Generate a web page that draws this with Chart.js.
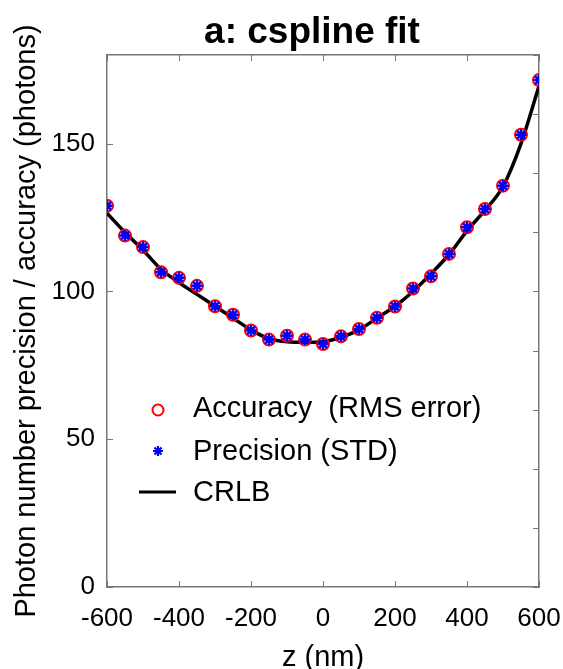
<!DOCTYPE html>
<html><head><meta charset="utf-8">
<script src="https://cdn.jsdelivr.net/npm/chart.js@4.4.1/dist/chart.umd.min.js"></script>
<style>html,body{margin:0;padding:0;background:#fff;overflow:hidden}#wrap{width:563px;height:669px;position:relative}canvas{display:block}</style>
</head><body><div id="wrap"><canvas id="c" width="563" height="669"></canvas></div>
<script>
const titleText = 'a: cspline fit';
const xLabel = 'z (nm)';
const yLabel = 'Photon number precision / accuracy (photons)';
const legendLabels = ['Accuracy  (RMS error)', 'Precision (STD)', 'CRLB'];

const zPos = [-600,-550,-500,-450,-400,-350,-300,-250,-200,-150,-100,-50,0,50,100,150,200,250,300,350,400,450,500,550,600];
const accuracy = [129.0,118.9,115.0,106.5,104.6,101.9,95.0,92.1,86.8,83.7,85.0,83.7,82.2,84.8,87.3,91.1,94.9,101.0,105.1,112.7,121.7,127.9,135.8,153.0,171.5];
const precision = [129.0,118.9,115.0,106.5,104.6,101.9,95.0,92.1,86.8,83.7,85.0,83.7,82.2,84.8,87.3,91.1,94.9,101.0,105.1,112.7,121.7,127.9,135.8,153.0,171.5];
const crlbZ = [-600,-550,-500,-450,-400,-350,-300,-250,-200,-150,-100,-50,0,50,100,150,200,250,300,350,400,450,500,550,600];
const crlb = [126.5,120.0,114.0,107.5,103.0,99.0,95.0,91.0,87.0,84.0,83.0,82.8,83.0,84.5,87.0,91.0,95.0,100.0,106.0,112.5,120.5,127.5,135.5,150.0,169.5];

const xTicks = [-600,-400,-200,0,200,400,600];
const yTicks = [0,50,100,150];
const yTicksRight = [0,20,40,60,80,100,120,140,160,180];

const FONT = '"Liberation Sans", Arial, Helvetica, sans-serif';
const AXIS_COLOR = '#777777';

const pts = (xs, ys) => xs.map((x, i) => ({x: x, y: ys[i]}));
const setTicks = arr => axis => { axis.ticks = arr.map(v => ({value: v})); };
const fixH = h => s => { s.height = h; s.paddingLeft = 0; s.paddingRight = 0; };
const fixW = w => s => { s.width = w; s.paddingTop = 0; s.paddingBottom = 0; };

const inwardTicks = {
  id: 'inwardTicks',
  afterDatasetsDraw(chart) {
    const ctx = chart.ctx, a = chart.chartArea, L = 6;
    ctx.save();
    ctx.strokeStyle = AXIS_COLOR;
    ctx.lineWidth = 1;
    ctx.beginPath();
    ['x','x2'].forEach(id => {
      const s = chart.scales[id];
      s.ticks.forEach(t => {
        const px = Math.round(s.getPixelForValue(t.value)) + 0.5;
        if (id === 'x') { ctx.moveTo(px, a.bottom); ctx.lineTo(px, a.bottom - L); }
        else { ctx.moveTo(px, a.top); ctx.lineTo(px, a.top + L); }
      });
    });
    ['y','y2'].forEach(id => {
      const s = chart.scales[id];
      s.ticks.forEach(t => {
        const py = Math.round(s.getPixelForValue(t.value)) + 0.5;
        if (id === 'y') { ctx.moveTo(a.left, py); ctx.lineTo(a.left + L, py); }
        else { ctx.moveTo(a.right, py); ctx.lineTo(a.right - L, py); }
      });
    });
    ctx.stroke();
    ctx.restore();
  }
};

const titlePlugin = {
  id: 'plotTitle',
  afterDraw(chart) {
    const ctx = chart.ctx;
    ctx.save();
    ctx.font = 'bold 37px ' + FONT;
    ctx.fillStyle = '#000';
    ctx.textAlign = 'center';
    ctx.textBaseline = 'alphabetic';
    ctx.fillText(titleText, 312, 43);
    ctx.restore();
  }
};

function drawStar(ctx, x, y, r, color, lw) {
  ctx.save();
  ctx.strokeStyle = color; ctx.lineWidth = lw;
  ctx.beginPath();
  for (let k = 0; k < 4; k++) {
    const ang = k * Math.PI / 4;
    ctx.moveTo(x + r * Math.cos(ang), y + r * Math.sin(ang));
    ctx.lineTo(x - r * Math.cos(ang), y - r * Math.sin(ang));
  }
  ctx.stroke();
  ctx.restore();
}

const legendPlugin = {
  id: 'innerLegend',
  afterDraw(chart) {
    const ctx = chart.ctx;
    const a = chart.chartArea;
    const ds = chart.data.datasets;
    const mx = a.left + 51, tx = a.left + 86;
    const rows = [408, 451, 492];
    ctx.save();
    ctx.font = '29px ' + FONT;
    ctx.fillStyle = '#000';
    ctx.textAlign = 'left';
    ctx.textBaseline = 'middle';
    ctx.beginPath();
    ctx.strokeStyle = ds[0].borderColor; ctx.lineWidth = 2;
    ctx.arc(mx, rows[0] + 2, 5.5, 0, Math.PI * 2);
    ctx.stroke();
    drawStar(ctx, mx, rows[1], 5, ds[1].borderColor, 2.2);
    ctx.beginPath();
    ctx.strokeStyle = ds[2].borderColor; ctx.lineWidth = 3;
    ctx.moveTo(mx - 19, rows[2]); ctx.lineTo(mx + 18, rows[2]);
    ctx.stroke();
    ds.forEach((d, i) => { ctx.fillText(d.label, tx, rows[i] + 1); });
    ctx.restore();
  }
};

new Chart(document.getElementById('c'), {
  type: 'line',
  data: {
    datasets: [
      { label: legendLabels[0], data: pts(zPos, accuracy), showLine: false,
        pointStyle: 'circle', pointRadius: 6, pointBorderWidth: 2,
        borderColor: '#ff0000', pointBorderColor: '#ff0000', pointBackgroundColor: 'rgba(0,0,0,0)',
        backgroundColor: 'rgba(0,0,0,0)', order: 2, xAxisID: 'x', yAxisID: 'y' },
      { label: legendLabels[1], data: pts(zPos, precision), showLine: false,
        pointStyle: 'star', pointRadius: 5.5, pointBorderWidth: 2.5,
        borderColor: '#0000ff', pointBorderColor: '#0000ff', pointBackgroundColor: '#0000ff',
        backgroundColor: '#0000ff', order: 1, xAxisID: 'x', yAxisID: 'y' },
      { label: legendLabels[2], data: pts(crlbZ, crlb), showLine: true,
        borderColor: '#000000', borderWidth: 3.5, pointRadius: 0, fill: false,
        cubicInterpolationMode: 'monotone', order: 3, xAxisID: 'x', yAxisID: 'y' }
    ]
  },
  options: {
    responsive: false,
    devicePixelRatio: 1,
    animation: false,
    layout: { padding: 0 },
    plugins: { legend: { display: false }, title: { display: false }, tooltip: { enabled: false } },
    scales: {
      x: {
        type: 'linear', position: 'bottom', min: -600, max: 600,
        afterBuildTicks: setTicks(xTicks),
        afterFit: fixH(82),
        grid: { display: false, drawTicks: false },
        border: { display: true, color: AXIS_COLOR, width: 1.5 },
        ticks: { color: '#000', font: { family: FONT, size: 26 }, padding: 16, maxRotation: 0, autoSkip: false },
        title: { display: true, text: xLabel, color: '#000', font: { family: FONT, size: 29, lineHeight: 0.75 }, padding: 0 }
      },
      x2: {
        type: 'linear', position: 'top', min: -600, max: 600,
        afterBuildTicks: setTicks(xTicks),
        afterFit: fixH(55),
        grid: { display: false, drawTicks: false },
        border: { display: true, color: AXIS_COLOR, width: 1.5 },
        ticks: { display: false }
      },
      y: {
        type: 'linear', position: 'left', min: 0, max: 180,
        afterBuildTicks: setTicks(yTicks),
        afterFit: fixW(107),
        grid: { display: false, drawTicks: false },
        border: { display: true, color: AXIS_COLOR, width: 1.5 },
        ticks: { color: '#000', font: { family: FONT, size: 26 }, padding: 12 },
        title: { display: true, text: yLabel, color: '#000', font: { family: FONT, size: 29, lineHeight: 1.2 }, padding: { top: 10, bottom: 0 } }
      },
      y2: {
        type: 'linear', position: 'right', min: 0, max: 180,
        afterBuildTicks: setTicks(yTicksRight),
        afterFit: fixW(24),
        grid: { display: false, drawTicks: false },
        border: { display: true, color: AXIS_COLOR, width: 1.5 },
        ticks: { display: false }
      }
    }
  },
  plugins: [inwardTicks, titlePlugin, legendPlugin]
});
</script></body></html>
